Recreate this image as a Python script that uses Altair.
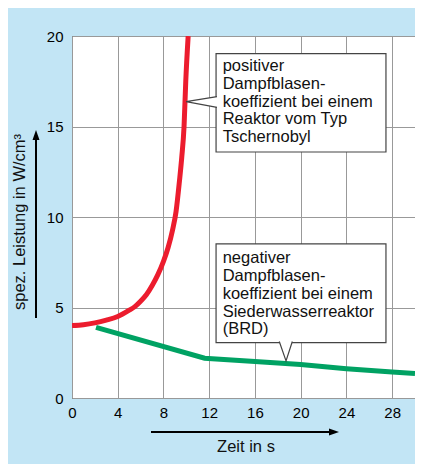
import altair as alt
import pandas as pd

# --- data ---
red_x = [0, 1, 2, 3, 4, 5, 5.5, 6, 6.5, 7, 7.5, 8, 8.4, 8.8, 9.1, 9.4, 9.6, 9.8, 9.95, 10.16]
red_y = [4.0, 4.05, 4.15, 4.3, 4.5, 4.85, 5.05, 5.35, 5.7, 6.2, 6.8, 7.55, 8.3, 9.3, 10.3, 12.0, 13.3, 15.0, 17.5, 20.0]

green_x = [2.1, 11.6, 16, 20, 24, 28, 30]
green_y = [3.9, 2.2, 2.02, 1.85, 1.62, 1.44, 1.36]

x_ticks = [0, 4, 8, 12, 16, 20, 24, 28]
y_ticks = [0, 5, 10, 15, 20]

labels = [
    "positiver\nDampfblasen-\nkoeffizient bei einem\nReaktor vom Typ\nTschernobyl",
    "negativer\nDampfblasen-\nkoeffizient bei einem\nSiederwasserreaktor\n(BRD)",
]
# annotation boxes in data units
box_x = [12.6, 12.6]
box_x2 = [27.46, 27.46]
box_y = [19.03, 8.51]
box_y2 = [13.59, 3.06]
text_x = [13.18, 13.18]
text_y = [18.78, 8.16]
# callout pointers (base1 -> tip -> base2)
ptr_group = [0, 0, 0, 1, 1, 1]
ptr_order = [0, 1, 2, 0, 1, 2]
ptr_x = [12.68, 9.98, 12.68, 18.13, 18.72, 19.27]
ptr_y = [16.65, 16.37, 16.06, 3.12, 2.05, 3.12]

FONT = "Liberation Sans"

red = pd.DataFrame({"x": red_x, "y": red_y})
green = pd.DataFrame({"x": green_x, "y": green_y})
boxes = pd.DataFrame({"x": box_x, "x2": box_x2, "y": box_y, "y2": box_y2})
texts = pd.DataFrame({"x": text_x, "y": text_y, "t": labels})
ptrs = pd.DataFrame({"x": ptr_x, "y": ptr_y, "g": ptr_group, "o": ptr_order})
one = pd.DataFrame({"a": [0]})

xs = alt.Scale(domain=[0, 30], nice=False, zero=False)
ys = alt.Scale(domain=[0, 20], nice=False, zero=False)

x_axis = alt.Axis(values=x_ticks, title=None, grid=True, ticks=False, domain=False,
                  labelFontSize=15, labelPadding=7, labelFont=FONT, labelColor="black",
                  labelFlush=False, gridColor="#999999", gridWidth=1)
y_axis = alt.Axis(values=y_ticks, title=None, grid=True, ticks=False, domain=False,
                  labelFontSize=15, labelPadding=9, labelFont=FONT, labelColor="black",
                  gridColor="#999999", gridWidth=1)

red_line = alt.Chart(red).mark_line(color="#ec1c2e", strokeWidth=5, clip=True,
                                    interpolate="monotone").encode(
    x=alt.X("x:Q", scale=xs, axis=x_axis),
    y=alt.Y("y:Q", scale=ys, axis=y_axis),
)
green_line = alt.Chart(green).mark_line(color="#00a263", strokeWidth=5, clip=True).encode(
    x=alt.X("x:Q", scale=xs),
    y=alt.Y("y:Q", scale=ys),
)
box_rects = alt.Chart(boxes).mark_rect(fill="white", stroke="#444444", strokeWidth=1.2).encode(
    x="x:Q", x2="x2:Q", y="y:Q", y2="y2:Q"
)
pointers = alt.Chart(ptrs).mark_line(fill="white", stroke="#444444", strokeWidth=1.2).encode(
    x="x:Q", y="y:Q", detail="g:N", order="o:Q"
)
box_text = alt.Chart(texts).mark_text(
    align="left", baseline="top", fontSize=16.5, lineHeight=17.8, font=FONT,
    color="#111111", lineBreak="\n"
).encode(x="x:Q", y="y:Q", text="t:N")

y_title = alt.Chart(one).mark_text(angle=270, fontSize=16.5, font=FONT, color="#111111").encode(
    x=alt.value(-52), y=alt.value(186), text=alt.value("spez. Leistung in W/cm³")
)
x_title = alt.Chart(one).mark_text(fontSize=16.5, font=FONT, color="#111111").encode(
    x=alt.value(174), y=alt.value(411), text=alt.value("Zeit in s")
)
y_arrow = alt.Chart(one).mark_rule(color="black", strokeWidth=2).encode(
    x=alt.value(-36), y=alt.value(282), y2=alt.value(104)
)
y_head = alt.Chart(one).mark_point(shape="M0,-1L0.7,1L-0.7,1Z", filled=True, color="black",
                                   size=100, opacity=1).encode(
    x=alt.value(-36), y=alt.value(99)
)
x_arrow = alt.Chart(one).mark_rule(color="black", strokeWidth=2).encode(
    x=alt.value(79), x2=alt.value(260), y=alt.value(396)
)
x_head = alt.Chart(one).mark_point(shape="M1,0L-1,-0.7L-1,0.7Z", filled=True, color="black",
                                   size=100, opacity=1).encode(
    x=alt.value(262), y=alt.value(396)
)

chart = alt.layer(
    red_line, green_line, box_rects, pointers, box_text,
    y_title, x_title, y_arrow, y_head, x_arrow, x_head
).properties(
    width=343, height=362,
    autosize=alt.AutoSizeParams(type="none"),
    padding={"left": 64, "top": 28, "right": 0, "bottom": 66},
    background="#c2e5f5",
).configure_view(stroke="#444444", strokeWidth=1, fill="white")

chart.save("out.html", embed_options={"renderer": "svg", "actions": False})
